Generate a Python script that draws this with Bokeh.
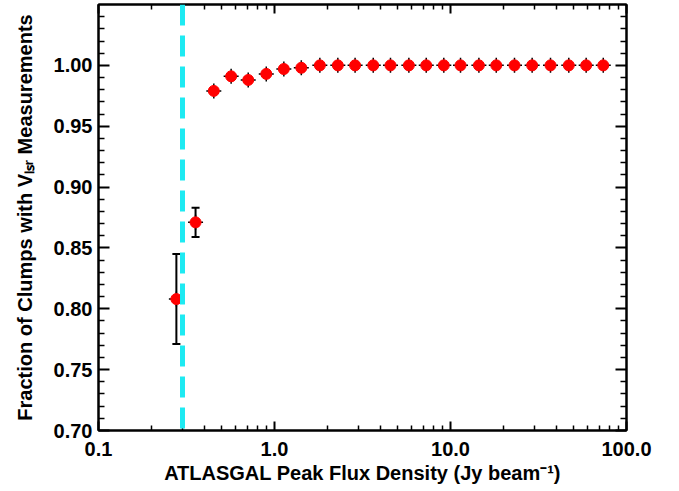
from bokeh.plotting import figure
from bokeh.models import (LogAxis, LinearAxis, FixedTicker, PrintfTickFormatter,
                          Span, Whisker, ColumnDataSource, TeeHead, Range1d)
from bokeh.embed import file_html
from bokeh.resources import INLINE

# ---- data ----
flux = [0.277, 0.356, 0.452, 0.567, 0.709, 0.898, 1.13, 1.42, 1.81, 2.29,
        2.87, 3.64, 4.56, 5.80, 7.28, 9.16, 11.4, 14.5, 18.2, 23.1,
        29.1, 37.0, 47.0, 59.0, 73.8]
fraction = [0.808, 0.871, 0.979, 0.991, 0.988, 0.993, 0.997, 0.998, 1.000, 1.000,
            1.000, 1.000, 1.000, 1.000, 1.000, 1.000, 1.000, 1.000, 1.000, 1.000,
            1.000, 1.000, 1.000, 1.000, 1.000]
fraction_err = [0.037, 0.012, 0.0, 0.0, 0.0, 0.0, 0.0, 0.0, 0.0, 0.0,
                0.0, 0.0, 0.0, 0.0, 0.0, 0.0, 0.0, 0.0, 0.0, 0.0,
                0.0, 0.0, 0.0, 0.0, 0.0]
flux_threshold = 0.3

x_major = [0.1, 1.0, 10.0, 100.0]
x_minor = [0.2, 0.3, 0.4, 0.5, 0.6, 0.7, 0.8, 0.9,
           2, 3, 4, 5, 6, 7, 8, 9,
           20, 30, 40, 50, 60, 70, 80, 90]
y_major = [0.70, 0.75, 0.80, 0.85, 0.90, 0.95, 1.00]
y_minor = [0.71, 0.72, 0.73, 0.74, 0.76, 0.77, 0.78, 0.79, 0.81, 0.82, 0.83, 0.84,
           0.86, 0.87, 0.88, 0.89, 0.91, 0.92, 0.93, 0.94, 0.96, 0.97, 0.98, 0.99,
           1.01, 1.02, 1.03, 1.04]

x_title = "ATLASGAL Peak Flux Density (Jy beam\u207b\u00b9)"
y_title = "Fraction of Clumps with V\u2097\u209b\u1d63 Measurements"

FONT = "Liberation Sans"

p = figure(width=670, height=491, x_axis_type="log",
           x_range=Range1d(0.1, 100), y_range=Range1d(0.70, 1.05),
           output_backend="svg", toolbar_location=None,
           min_border_left=98, min_border_right=44,
           min_border_top=4, min_border_bottom=61)
p.xgrid.visible = False
p.ygrid.visible = False
p.outline_line_color = "black"
p.outline_line_width = 2
p.background_fill_color = "white"
p.border_fill_color = "white"


def style_axis(ax, tin, tmin, labels=True):
    ax.axis_line_width = 2
    ax.axis_line_color = "black"
    ax.major_tick_line_width = 2
    ax.minor_tick_line_width = 1.5
    ax.major_tick_in = tin
    ax.major_tick_out = 0
    ax.minor_tick_in = tmin
    ax.minor_tick_out = 0
    if labels:
        ax.major_label_text_font = FONT
        ax.major_label_text_font_style = "bold"
        ax.major_label_text_font_size = "20px"
        ax.major_label_text_color = "black"
        ax.axis_label_text_font = FONT
        ax.axis_label_text_font_style = "bold"
        ax.axis_label_text_font_size = "20px"
        ax.axis_label_text_color = "black"
    else:
        ax.major_label_text_font_size = "1px"
        ax.major_label_text_alpha = 0
        ax.major_label_standoff = 0


xt = FixedTicker(ticks=x_major, minor_ticks=x_minor)
yt = FixedTicker(ticks=y_major, minor_ticks=y_minor)

xa = p.xaxis[0]
xa.ticker = xt
xa.formatter = PrintfTickFormatter(format="%.1f")
style_axis(xa, 9, 5)
xa.major_label_standoff = 11
xa.axis_label = x_title
xa.axis_label_standoff = 3

ya = p.yaxis[0]
ya.ticker = yt
ya.formatter = PrintfTickFormatter(format="%.2f")
style_axis(ya, 11, 6)
ya.major_label_standoff = 6
ya.axis_label = y_title
ya.axis_label_standoff = 15

top = LogAxis(ticker=FixedTicker(ticks=x_major, minor_ticks=x_minor))
style_axis(top, 9, 5, labels=False)
p.add_layout(top, "above")
right = LinearAxis(ticker=FixedTicker(ticks=y_major, minor_ticks=y_minor))
style_axis(right, 11, 6, labels=False)
p.add_layout(right, "right")

# threshold line
p.add_layout(Span(location=flux_threshold, dimension="height",
                  line_color="#1EEAF2", line_width=5, line_dash="21 10"))

# error bars (only where an error is given)
ex, eu, el = [], [], []
for xv, yv, ev in zip(flux, fraction, fraction_err):
    if ev > 0:
        ex.append(xv)
        eu.append(yv + ev)
        el.append(yv - ev)
esrc = ColumnDataSource(dict(x=ex, upper=eu, lower=el))
p.add_layout(Whisker(base="x", upper="upper", lower="lower", source=esrc,
                     dimension="height", line_color="black", line_width=2,
                     upper_head=TeeHead(size=8, line_width=2, line_color="black"),
                     lower_head=TeeHead(size=8, line_width=2, line_color="black")))

src = ColumnDataSource(dict(x=flux, y=fraction))
p.scatter("x", "y", source=src, marker="cross", size=15,
          line_color="black", line_width=1.5)
p.scatter("x", "y", source=src, marker="circle", size=11,
          fill_color="red", line_color="red")

open("out.html", "w").write(file_html(p, INLINE))
